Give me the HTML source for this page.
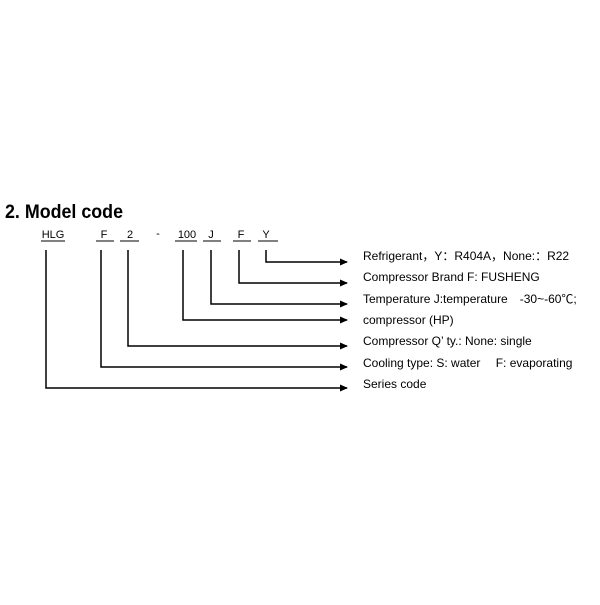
<!DOCTYPE html>
<html><head><style>
body{margin:0;background:#fff;width:600px;height:600px;overflow:hidden;font-family:"Liberation Sans",sans-serif;}
</style></head><body>
<svg width="600" height="600" xmlns="http://www.w3.org/2000/svg">
<defs><marker id="a" markerWidth="8" markerHeight="8" refX="7" refY="4" orient="auto" markerUnits="userSpaceOnUse"><path d="M0,0.5 L8,4 L0,7.5 Z" fill="#000"/></marker></defs>
<text x="5" y="218" font-size="19" font-weight="bold" font-family="Liberation Sans, sans-serif" textLength="118" lengthAdjust="spacingAndGlyphs">2. Model code</text>
<g font-size="11" font-family="Liberation Sans, sans-serif" text-anchor="middle">
<text x="53" y="238">HLG</text><text x="104" y="238">F</text><text x="130" y="238">2</text><text x="158" y="237">-</text><text x="187" y="238">100</text><text x="211" y="238">J</text><text x="241" y="238">F</text><text x="266" y="238">Y</text>
</g>
<g stroke="#000" stroke-width="1">
<line x1="41" y1="241" x2="65" y2="241"/><line x1="96" y1="241" x2="114" y2="241"/><line x1="120" y1="241" x2="139" y2="241"/><line x1="175" y1="241" x2="197" y2="241"/><line x1="203" y1="241" x2="221" y2="241"/><line x1="233" y1="241" x2="251" y2="241"/><line x1="258" y1="241" x2="278" y2="241"/>
</g>
<g stroke="#000" stroke-width="1.5" fill="none" marker-end="url(#a)">
<polyline points="266,250 266,262 347,262"/>
<polyline points="239,250 239,283 347,283"/>
<polyline points="211,250 211,304 347,304"/>
<polyline points="183,250 183,320 347,320"/>
<polyline points="128,250 128,346 347,346"/>
<polyline points="101,250 101,367 347,367"/>
<polyline points="46,250 46,388 347,388"/>
</g>
<g font-size="12" font-family="Liberation Sans, sans-serif">
<text x="363" y="260">Refrigerant，Y：R404A，None:：R22</text>
<text x="363" y="281">Compressor Brand F: FUSHENG</text>
<text x="363" y="303">Temperature J:temperature　-30~-60℃;</text>
<text x="363" y="324">compressor (HP)</text>
<text x="363" y="345">Compressor Q’ ty.: None: single</text>
<text x="363" y="367">Cooling type: S: water　 F: evaporating</text>
<text x="363" y="388">Series code</text>
</g>
</svg>
</body></html>
